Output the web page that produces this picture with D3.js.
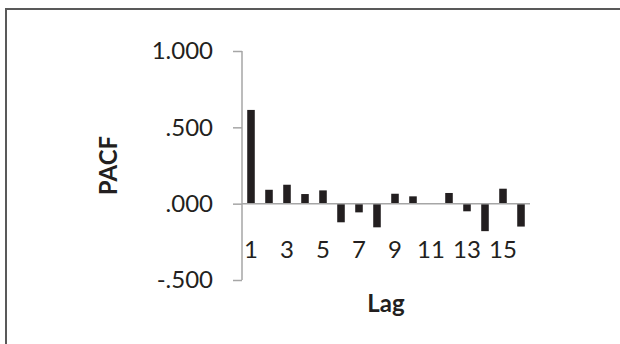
<!DOCTYPE html>
<html>
<head>
<meta charset="utf-8">
<script src="https://cdn.jsdelivr.net/npm/d3@7"></script>
<style>
html,body{margin:0;padding:0;background:#fff;}
svg{display:block;}
text{font-family:Lato,"Open Sans",sans-serif;fill:#231f20;}
</style>
</head>
<body>
<svg id="chart" width="620" height="344"></svg>
<script>
const lags = [1,2,3,4,5,6,7,8,9,10,11,12,13,14,15,16];
const pacf = [0.614,0.091,0.124,0.063,0.087,-0.122,-0.057,-0.155,0.065,0.048,0.0,0.070,-0.050,-0.180,0.098,-0.150];
const yTicks = [1.0,0.5,0.0,-0.5];
const xTickLabels = [1,3,5,7,9,11,13,15];

const svg = d3.select("#chart");
// outer frame
svg.append("rect").attr("x",6).attr("y",9).attr("width",640).attr("height",360)
  .attr("fill","none").attr("stroke","#595959").attr("stroke-width",2);

const pLeft = 242, pRight = 530, pTop = 51, pBottom = 280;
const x = d3.scaleBand().domain(lags).range([pLeft,pRight]).paddingInner(0.58).paddingOuter(0.29);
const y = d3.scaleLinear().domain([-0.5,1.0]).range([pBottom,pTop]);

const fmt = d => {
  const s = Math.abs(d).toFixed(3).replace(/^0\./, ".");
  return (d < 0 ? "-" : "") + s;
};

// y axis
const yAxis = d3.axisLeft(y).tickValues(yTicks).tickSize(9).tickPadding(20).tickFormat(fmt);
const ga = svg.append("g").attr("transform",`translate(${pLeft},0)`).call(yAxis);
ga.select(".domain").remove();
ga.selectAll(".tick line").attr("stroke","#a6a6a6").attr("stroke-width",1.5);
ga.selectAll(".tick text").attr("font-size",24).style("font-family","Lato").attr("fill","#231f20");
svg.append("line").attr("x1",pLeft).attr("x2",pLeft).attr("y1",y(1.0)).attr("y2",y(-0.5))
  .attr("stroke","#a6a6a6").attr("stroke-width",1.5);

// bars
svg.append("g").selectAll("rect").data(lags).join("rect")
  .attr("x", (d)=>x(d))
  .attr("width", x.bandwidth())
  .attr("y", (d,i)=>y(Math.max(0,pacf[i])))
  .attr("height", (d,i)=>Math.abs(y(pacf[i])-y(0)))
  .attr("fill","#231f20");

// zero line
svg.append("line").attr("x1",pLeft).attr("x2",pRight).attr("y1",y(0)).attr("y2",y(0))
  .attr("stroke","#a6a6a6").attr("stroke-width",1.5);

// x tick labels
svg.append("g").selectAll("text").data(xTickLabels).join("text")
  .attr("x", d => x(d)+x.bandwidth()/2)
  .attr("y", 258)
  .attr("text-anchor","middle")
  .attr("font-size",24)
  .text(d=>d);

// axis titles
svg.append("text").attr("x",(pLeft+pRight)/2).attr("y",311.5).attr("text-anchor","middle")
  .attr("font-size",24).attr("font-weight","bold").text("Lag");
svg.append("text").attr("transform",`translate(117,${(pTop+pBottom)/2}) rotate(-90)`)
  .attr("text-anchor","middle").attr("font-size",24).attr("font-weight","bold").text("PACF");
</script>
</body>
</html>
